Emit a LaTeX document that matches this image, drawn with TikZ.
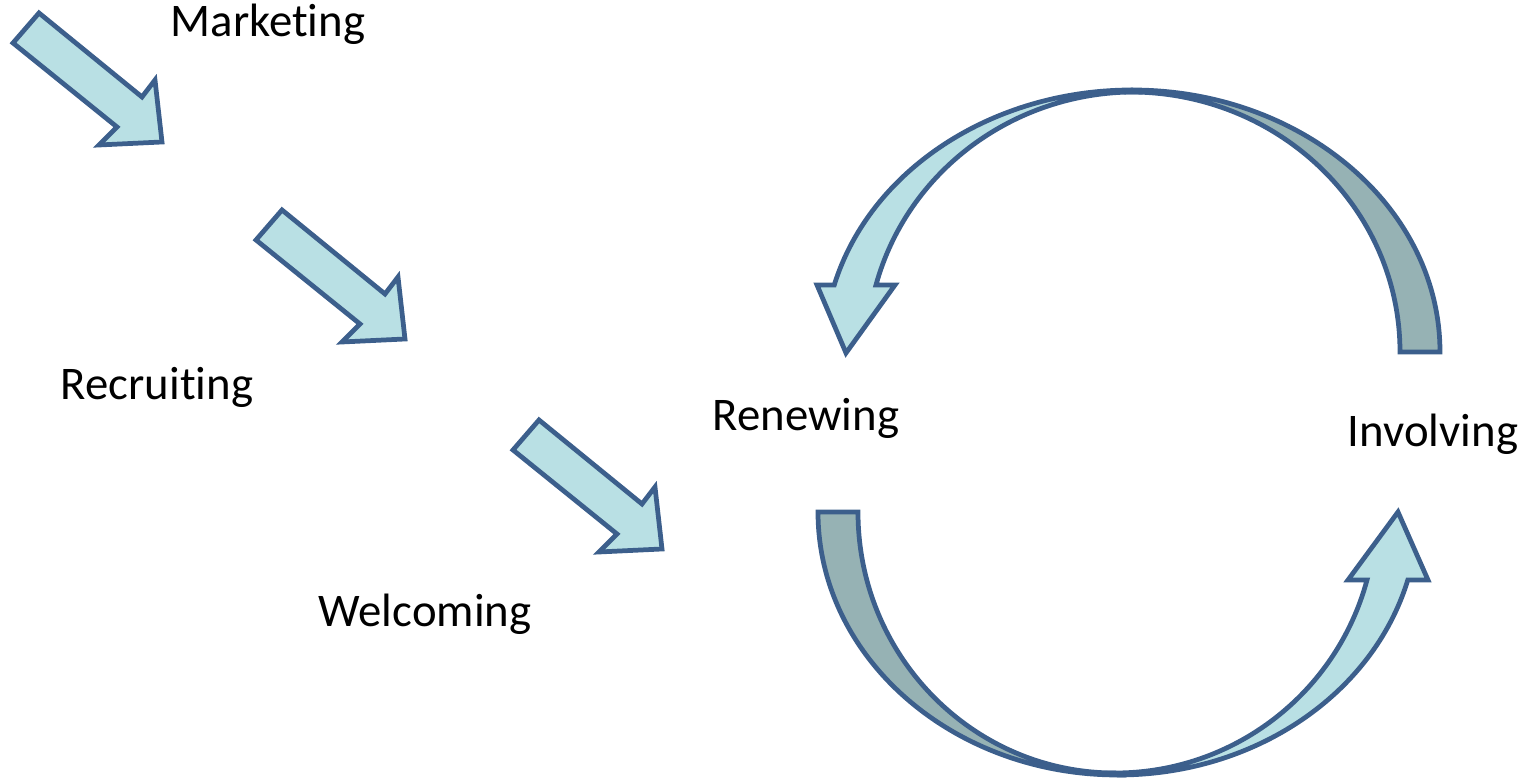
\documentclass[tikz,border=0pt]{standalone}
\usepackage{fontspec}
\setmainfont{Carlito}
\usetikzlibrary{positioning}
\definecolor{cyfill}{HTML}{B9E0E4}
\definecolor{cyshade}{HTML}{96B2B4}
\definecolor{cyline}{HTML}{3C5F8C}

\begin{document}
\begin{tikzpicture}[
  x=0.01cm, y=0.01cm,
  every node/.style={font=\fontsize{13.3}{16}\selectfont, anchor=base},
  blockarrow/.style={draw=cyline, line width=1.35pt, line join=miter, fill=cyfill},
  backarrow/.style={blockarrow, fill=cyshade},
]
\useasboundingbox (0,0) rectangle (1532,-780);

% straight arrows down the funnel
\foreach \dx/\dy in {0/0, 243/-197, 500/-407} {
  \draw[blockarrow, shift={(\dx,\dy)}] (13,-43) -- (39,-13) -- (142,-97) -- (155,-80)
    -- (162,-142) -- (99,-145) -- (117,-127) -- cycle;
}

% upper loop arrow: back face, then front face with head
\draw[backarrow] (1132,-90) arc[start angle=90, end angle=0, x radius=308, y radius=262]
  -- (1400,-352) arc[start angle=0, end angle=90, x radius=270, y radius=260] -- cycle;
\draw[blockarrow] (1132,-90) arc[start angle=90, end angle=165.2, x radius=308, y radius=262]
  -- (817,-285) -- (846,-353) -- (895,-285) -- (876,-285)
  arc[start angle=165.07, end angle=90, x radius=268, y radius=260] -- cycle;

% lower loop arrow
\draw[backarrow] (818,-512) arc[start angle=180, end angle=270, x radius=300, y radius=263]
  -- (1115,-773) arc[start angle=270, end angle=180, x radius=257, y radius=261] -- cycle;
\draw[blockarrow] (1118,-775) arc[start angle=270, end angle=345, x radius=300, y radius=263]
  -- (1428,-580) -- (1398,-512) -- (1348,-580) -- (1367,-580)
  arc[start angle=-15.1, end angle=-90, x radius=261, y radius=261] -- cycle;

% stage labels (kern keeps t and i apart)
\node (marketing) at (268,-37) {Market\kern0pt ing};
\node (recruiting) at (157,-400) {Recruit\kern0pt ing};
\node (welcoming) at (425,-627) {Welcoming};
\node (renewing) at (806,-431) {Renewing};
\node (involving) at (1433,-447) {Involving};
\end{tikzpicture}
\end{document}
